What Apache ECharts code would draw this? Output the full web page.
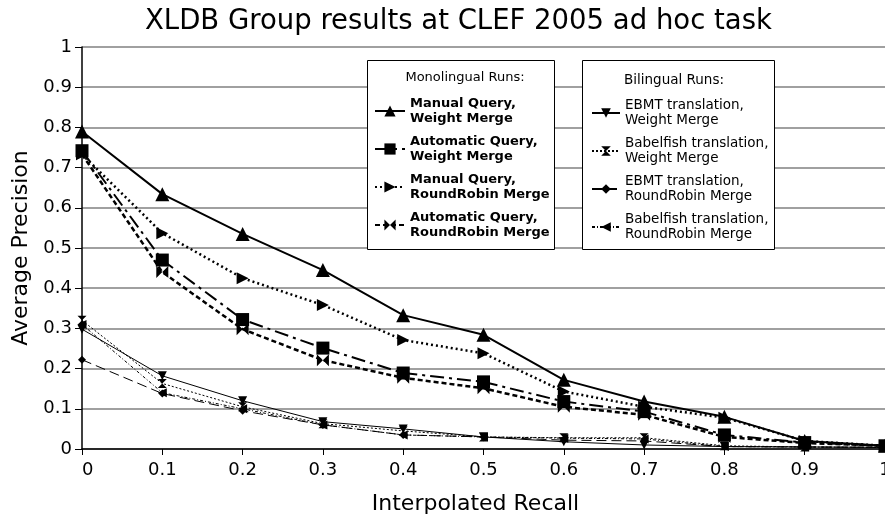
<!DOCTYPE html>
<html>
<head>
<meta charset="utf-8">
<script src="https://cdn.jsdelivr.net/npm/echarts@6/dist/echarts.min.js"></script>
<style>html,body{margin:0;padding:0;background:#fff;}#c{width:885px;height:521px;}</style>
</head>
<body>
<div id="c"></div>
<script>
var recall = [0, 0.1, 0.2, 0.3, 0.4, 0.5, 0.6, 0.7, 0.8, 0.9, 1];
var manualWeight = [0.79, 0.634, 0.535, 0.445, 0.333, 0.284, 0.172, 0.118, 0.08, 0.02, 0.008];
var autoWeight   = [0.742, 0.47, 0.322, 0.251, 0.189, 0.167, 0.118, 0.093, 0.035, 0.016, 0.008];
var manualRR     = [0.733, 0.537, 0.425, 0.358, 0.271, 0.238, 0.143, 0.105, 0.078, 0.02, 0.008];
var autoRR       = [0.733, 0.44, 0.298, 0.221, 0.177, 0.151, 0.105, 0.085, 0.03, 0.015, 0.008];
var ebmtWeight   = [0.298, 0.182, 0.12, 0.068, 0.05, 0.03, 0.018, 0.01, 0.006, 0.005, 0.004];
var babelWeight  = [0.32, 0.163, 0.105, 0.063, 0.045, 0.03, 0.028, 0.028, 0.008, 0.005, 0.004];
var ebmtRR       = [0.222, 0.138, 0.095, 0.06, 0.035, 0.03, 0.022, 0.02, 0.006, 0.005, 0.004];
var babelRR      = [0.31, 0.14, 0.1, 0.06, 0.035, 0.03, 0.027, 0.025, 0.006, 0.005, 0.004];

var names = {
  mw: 'Manual Query,\nWeight Merge',
  aw: 'Automatic Query,\nWeight Merge',
  mr: 'Manual Query,\nRoundRobin Merge',
  ar: 'Automatic Query,\nRoundRobin Merge',
  ew: 'EBMT translation,\nWeight Merge',
  bw: 'Babelfish translation,\nWeight Merge',
  er: 'EBMT translation,\nRoundRobin Merge',
  br: 'Babelfish translation,\nRoundRobin Merge'
};

function pairs(vals) { return recall.map(function (r, i) { return [r, vals[i]]; }); }

function mk(name, vals, symbol, size, width, type) {
  return {
    name: name, type: 'line', data: pairs(vals),
    symbol: symbol, symbolSize: size, showAllSymbol: true,
    lineStyle: { color: '#000', width: width, type: type },
    itemStyle: { color: '#000', borderWidth: 0 },
    emphasis: { disabled: true },
    animation: false, clip: false
  };
}

var FONT = 'DejaVu Sans';
var chart = echarts.init(document.getElementById('c'), null, { renderer: 'canvas' });
chart.setOption({
  backgroundColor: '#fff',
  title: {
    text: 'XLDB Group results at CLEF 2005 ad hoc task',
    left: 140, top: 3,
    textStyle: { fontFamily: FONT, fontSize: 27.5, fontWeight: 'normal', color: '#000' }
  },
  grid: { left: 82, right: 0, top: 47, bottom: 72, containLabel: false, outerBoundsMode: 'none' },
  xAxis: {
    type: 'value', min: 0, max: 1, interval: 0.1,
    name: 'Interpolated Recall', nameLocation: 'middle', nameGap: 44,
    nameTextStyle: { fontFamily: FONT, fontSize: 22, color: '#000', padding: [0, 16, 0, 0] },
    axisLine: { lineStyle: { color: '#000', width: 1.5 } },
    axisTick: { show: true, length: 6, lineStyle: { color: '#000' } },
    axisLabel: { fontFamily: FONT, fontSize: 18, color: '#000', margin: 12, alignMinLabel: 'left' },
    splitLine: { show: false }
  },
  yAxis: {
    type: 'value', min: 0, max: 1, interval: 0.1,
    name: 'Average Precision', nameLocation: 'middle', nameGap: 47,
    nameTextStyle: { fontFamily: FONT, fontSize: 22, color: '#000' },
    axisLine: { show: true, lineStyle: { color: '#000', width: 1.5 } },
    axisTick: { show: true, length: 7, lineStyle: { color: '#000' } },
    axisLabel: { fontFamily: FONT, fontSize: 18, color: '#000', margin: 10 },
    splitLine: { show: true, lineStyle: { color: '#808080', width: 1.5 } }
  },
  graphic: [
    { type: 'rect', z: 3, shape: { x: 367.5, y: 60.5, width: 187, height: 189 },
      style: { fill: '#fff', stroke: '#000', lineWidth: 1 } },
    { type: 'rect', z: 3, shape: { x: 582.5, y: 60.5, width: 192, height: 189 },
      style: { fill: '#fff', stroke: '#000', lineWidth: 1 } },
    { type: 'text', z: 4, x: 465, y: 78,
      style: { text: 'Monolingual Runs:', font: '13px "DejaVu Sans"', fill: '#000', align: 'center', verticalAlign: 'middle' } },
    { type: 'text', z: 4, x: 624, y: 80,
      style: { text: 'Bilingual Runs:', font: '13.5px "DejaVu Sans"', fill: '#000', align: 'left', verticalAlign: 'middle' } }
  ],
  legend: [
    {
      data: [names.mw, names.aw, names.mr, names.ar],
      orient: 'vertical', left: 369, top: 91, itemGap: 8,
      itemWidth: 30, itemHeight: 14, selectedMode: false,
      textStyle: { fontFamily: FONT, fontSize: 13, fontWeight: 'bold', color: '#000', lineHeight: 15 },
      z: 5
    },
    {
      data: [names.ew, names.bw, names.er, names.br],
      orient: 'vertical', left: 586, top: 93, itemGap: 8,
      itemWidth: 28, itemHeight: 12, selectedMode: false,
      textStyle: { fontFamily: FONT, fontSize: 13.5, color: '#000', lineHeight: 15 },
      z: 5
    }
  ],
  series: [
    mk(names.mw, manualWeight, 'triangle', 14, 2, 'solid'),
    mk(names.aw, autoWeight, 'rect', 13, 2, [14, 5, 3, 5]),
    mk(names.mr, manualRR, 'path://M0,0 L10,5 L0,10 Z', 12, 2.5, [2, 3]),
    mk(names.ar, autoRR, 'path://M0,0 L5,5 L0,10 Z M10,0 L5,5 L10,10 Z', 12, 2.5, [5, 3]),
    mk(names.ew, ebmtWeight, 'path://M0,0 L10,0 L5,10 Z', 9, 1, 'solid'),
    mk(names.bw, babelWeight, 'path://M0,0 L10,0 L5,5 Z M0,10 L10,10 L5,5 Z', 9, 1, [2, 2]),
    mk(names.er, ebmtRR, 'diamond', 8, 1, [10, 5]),
    mk(names.br, babelRR, 'path://M10,0 L0,5 L10,10 Z', 9, 1, [3, 2, 1, 2])
  ]
});
</script>
</body>
</html>
